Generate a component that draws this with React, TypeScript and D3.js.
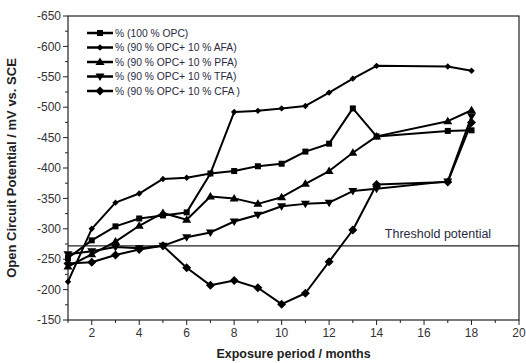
import React from "react";
import * as d3 from "d3";

const months = [1, 2, 3, 4, 5, 6, 7, 8, 9, 10, 11, 12, 13, 14, 17, 18];
const opc = [-252, -281, -304, -317, -322, -327, -391, -395, -403, -407, -427, -440, -498, -452, -461, -462];
const afa = [-213, -300, -343, -358, -382, -384, -391, -492, -494, -498, -502, -524, -547, -568, -567, -560];
const pfa = [-238, -258, -279, -305, -326, -315, -353, -350, -341, -352, -374, -395, -425, -452, -477, -495];
const tfa = [-258, -263, -270, -268, -272, -286, -294, -312, -323, -337, -341, -343, -362, -366, -378, -485];
const cfa = [-243, -245, -257, -266, -272, -236, -207, -215, -203, -176, -194, -246, -298, -373, -377, -475];
const seriesNames = [
  "% (100 % OPC)",
  "% (90 % OPC+ 10 % AFA)",
  "% (90 % OPC+ 10 % PFA)",
  "% (90 % OPC+ 10 % TFA)",
  "% (90 % OPC+ 10 % CFA )",
];
const yTicks = [-650, -600, -550, -500, -450, -400, -350, -300, -250, -200, -150];
const xTicks = [2, 4, 6, 8, 10, 12, 14, 16, 18, 20];
const threshold = -272;

const W = 526, H = 363;
const L = 68, R = 519, T = 16, B = 320;

const markerPath = (kind: string, cx: number, cy: number) => {
  switch (kind) {
    case "square": return `M${cx - 3},${cy - 3}h6v6h-6Z`;
    case "smalldiamond": return `M${cx},${cy - 3.2}L${cx + 3.2},${cy}L${cx},${cy + 3.2}L${cx - 3.2},${cy}Z`;
    case "triangle": return `M${cx},${cy - 4.5}L${cx + 4.5},${cy + 3}L${cx - 4.5},${cy + 3}Z`;
    case "itriangle": return `M${cx},${cy + 4.5}L${cx + 4.5},${cy - 3}L${cx - 4.5},${cy - 3}Z`;
    default: return `M${cx},${cy - 4.5}L${cx + 4.5},${cy}L${cx},${cy + 4.5}L${cx - 4.5},${cy}Z`;
  }
};

export default function App() {
  const x = d3.scaleLinear().domain([1, 20]).range([L, R]);
  const y = d3.scaleLinear().domain([-650, -150]).range([T, B]);
  const series = [
    { name: seriesNames[0], values: opc, kind: "square" },
    { name: seriesNames[1], values: afa, kind: "smalldiamond" },
    { name: seriesNames[2], values: pfa, kind: "triangle" },
    { name: seriesNames[3], values: tfa, kind: "itriangle" },
    { name: seriesNames[4], values: cfa, kind: "diamond" },
  ];
  const line = d3.line<number>().x((_, i) => x(months[i])).y((v) => y(v));
  const minorY = d3.range(-625, -150, 50);
  const minorX = d3.range(1, 20, 2);
  const font = "'Liberation Sans', Arial, sans-serif";
  return (
    <svg width={W} height={H} style={{ position: "absolute", left: 0, top: 0, background: "#fff" }} fontFamily={font}>
      <rect x={L} y={T} width={R - L} height={B - T} fill="none" stroke="#222" strokeWidth={1.2} />
      {yTicks.map((t) => (
        <g key={"y" + t}>
          <line x1={L - 5} x2={L} y1={y(t)} y2={y(t)} stroke="#222" strokeWidth={1} />
          <text x={L - 7} y={y(t)} dy="0.35em" textAnchor="end" fontSize={12} fill="#333">{t}</text>
        </g>
      ))}
      {minorY.map((t) => (
        <line key={"my" + t} x1={L - 3} x2={L} y1={y(t)} y2={y(t)} stroke="#222" strokeWidth={1} />
      ))}
      {xTicks.map((t) => (
        <g key={"x" + t}>
          <line x1={x(t)} x2={x(t)} y1={B} y2={B + 5} stroke="#222" strokeWidth={1} />
          <text x={x(t)} y={B + 17} textAnchor="middle" fontSize={12} fill="#333">{t}</text>
        </g>
      ))}
      {minorX.map((t) => (
        <line key={"mx" + t} x1={x(t)} x2={x(t)} y1={B} y2={B + 3} stroke="#222" strokeWidth={1} />
      ))}
      <line x1={L} x2={R} y1={y(threshold)} y2={y(threshold)} stroke="#222" strokeWidth={1.2} />
      <text x={438} y={y(threshold) - 8} textAnchor="middle" fontSize={12.5} fill="#2a2a40">Threshold potential</text>
      {series.map((s) => (
        <g key={s.name}>
          <path d={line(s.values) || ""} fill="none" stroke="#000" strokeWidth={2} strokeLinejoin="round" />
          {s.values.map((v, i) => (
            <path key={i} d={markerPath(s.kind, x(months[i]), y(v))} fill="#000" />
          ))}
        </g>
      ))}
      {series.map((s, i) => {
        const ly = 33 + i * 14.5;
        return (
          <g key={"lg" + i}>
            <line x1={87} x2={113} y1={ly} y2={ly} stroke="#000" strokeWidth={2.5} />
            <path d={markerPath(s.kind, 100, ly)} fill="#000" />
            <text x={115} y={ly} dy="0.35em" fontSize={10.3} fill="#2a2a40">{s.name}</text>
          </g>
        );
      })}
      <text transform={`translate(16,${(T + B) / 2}) rotate(-90)`} textAnchor="middle" fontSize={13} fontWeight="bold" fill="#222">
        Open Circuit Potential / mV vs. SCE
      </text>
      <text x={(L + R) / 2} y={358} textAnchor="middle" fontSize={12.5} fontWeight="bold" fill="#222">
        Exposure period / months
      </text>
    </svg>
  );
}
